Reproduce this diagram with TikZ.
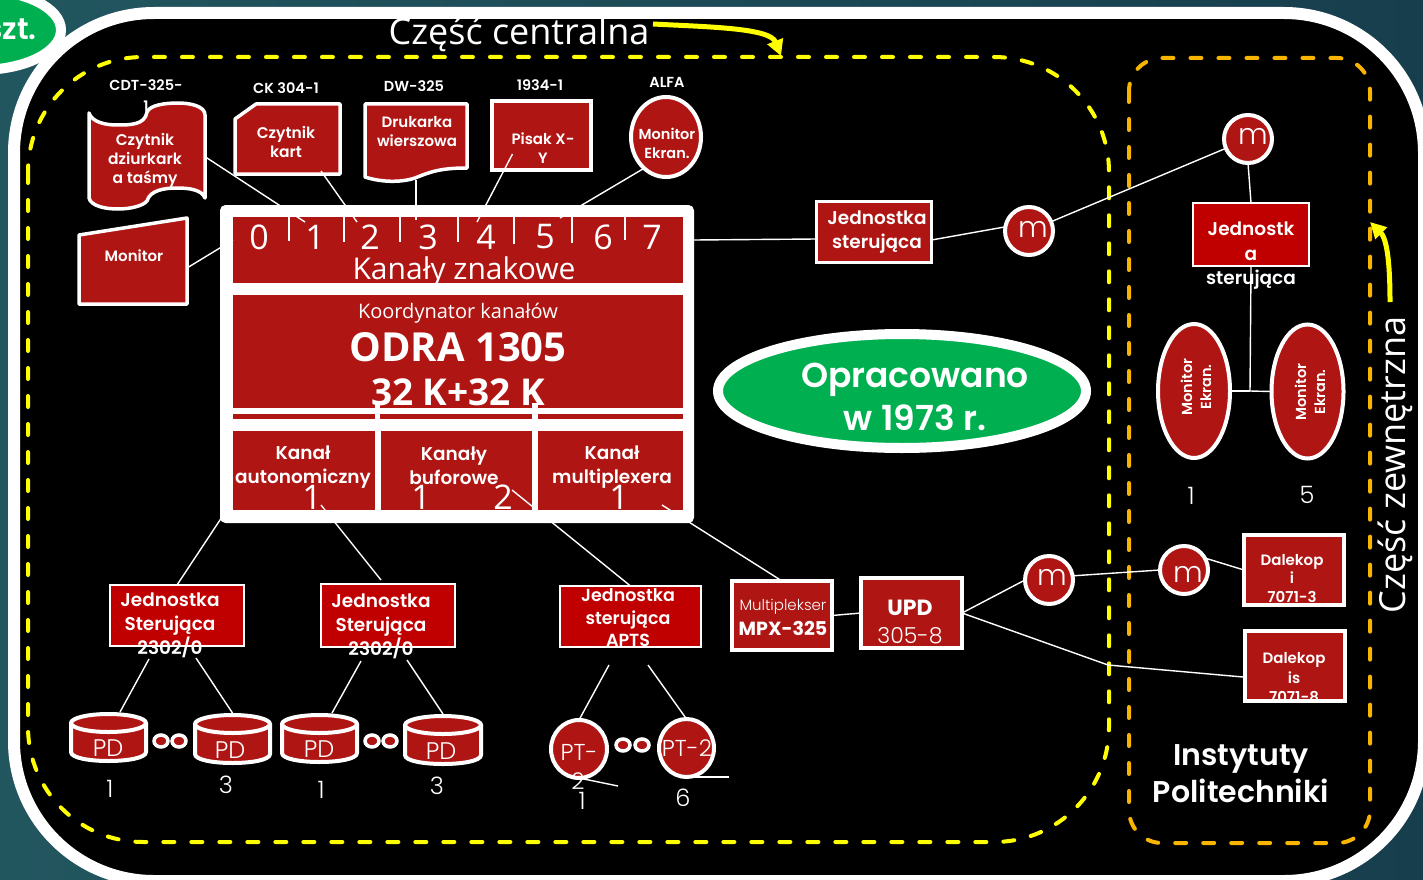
\documentclass[tikz,border=0pt]{standalone}
\usepackage{fontspec}
\setmainfont{Poppins}
\newfontfamily\comic{Open Sans}
\newfontfamily\med{Poppins SemiBold}
\newfontfamily\lite{Poppins Light}
\usetikzlibrary{shapes.geometric,arrows.meta}
\definecolor{cred}{HTML}{AE1513}
\definecolor{bred}{HTML}{C00000}
\definecolor{cgreen}{HTML}{00B050}
\definecolor{cyell}{HTML}{FFFF00}
\definecolor{corange}{HTML}{F9B400}
\definecolor{bgl}{HTML}{22565F}
\definecolor{bgm}{HTML}{2F6A6A}
\definecolor{bgr}{HTML}{173E4D}
\newcommand\fs[2]{\fontsize{#1}{#2}\selectfont}
\tikzset{
 tx/.style={text=white,inner sep=0pt,align=center},
 hv/.style={tx,font=\med\fs{#1}{#1}},
 rg/.style={tx,font=\lite\fs{#1}{#1}},
 cm/.style={tx,font=\comic\fs{#1}{#1}},
 rbox/.style={rectangle,inner sep=0pt,outer sep=0pt,draw=white,fill=cred,line width=4pt},
 jbox/.style={rectangle,inner sep=0pt,outer sep=0pt,draw=white,fill=bred,line width=2pt},
 round/.style={ellipse,inner sep=0pt,outer sep=0pt,draw=white,fill=cred,line width=4pt},
 region/.style={fill=cred},
 shapeln/.style={draw=white,fill=cred,line width=3.5pt,line join=round},
 conn/.style={draw=white,line width=1.4pt},
 tick/.style={draw=white,line width=1.3pt},
 dyel/.style={draw=cyell,line width=4pt,line cap=round,dash pattern=on 11pt off 17pt},
 dora/.style={draw=corange,line width=4pt,line cap=round,dash pattern=on 11pt off 17pt},
 yarrow/.style={draw=cyell,line width=5pt,-{Triangle[length=16pt,width=16pt]}},
 dotnode/.style={ellipse,inner sep=0pt,draw=white,fill=cred,line width=3.5pt,minimum width=14pt,minimum height=12pt},
}
\newcommand\PDcyl[5]{% name x1 x2 y1 y2
 \path[draw=white,fill=cred,line width=4pt]
  (#2,#4+9) -- (#2,#5-9) .. controls (#2,#5+3) and (#3,#5+3) .. (#3,#5-9) -- (#3,#4+9);
 \path[draw=white,fill=cred,line width=4pt] ({(#2+#3)/2},#4+9) ellipse ({(#3-#2)/2} and 9);
 \node[inner sep=0pt,outer sep=0pt,minimum width={(#3-#2+4)*1pt},minimum height={(#5-#4+4)*1pt}] (#1) at ({(#2+#3)/2},{(#4+#5)/2}) {};
}
\begin{document}
\begin{tikzpicture}[x=1pt,y=-1pt]
\useasboundingbox (0,0) rectangle (1423,880);
\clip (0,0) rectangle (1423,880);
\shade[left color=bgl,middle color=bgm,right color=bgr] (0,0) rectangle (1423,880);
% panel
\path[draw=white,fill=black,line width=12pt,rounded corners=140pt] (14,13) rectangle (1424,881);
% szt badge
\node[ellipse,draw=white,fill=cgreen,line width=10pt,minimum width=162pt,minimum height=80pt,inner sep=0pt] (badge) at (-20,30) {};
\node[tx,font=\med\fs{30}{30},anchor=east] (bdgt) at (37,29) {szt.};
% dashed frames
\path[dyel,rounded corners=115pt] (28,57) rectangle (1109,842);
\path[dora,rounded corners=33pt] (1129,58) rectangle (1370,843);
\node[cm=36] (cc) at (519,34) {Część centralna};
\node[cm=36,rotate=90] (cz) at (1395,465) {Część zewnętrzna};
\coordinate (ya1) at (653,24); \coordinate (ya2) at (781,56);
\coordinate (yb1) at (1390,302); \coordinate (yb2) at (1370,222);
\draw[yarrow] (ya1) .. controls (710,27) and (770,28) .. (ya2);
\draw[yarrow] (yb1) .. controls (1390,270) and (1388,240) .. (yb2);
% peripherals
\node[hv=14.5] (lcdt) at (146,85) {CDT-325-};
\node[hv=14.5] (lcdt2) at (146,106) {1};
\path[shapeln] (89,113) .. controls (92,122) and (105,125) .. (117,125) .. controls (130,125) and (145,125) .. (147,112) .. controls (150,105) and (165,103) .. (178,103) .. controls (190,103) and (205,106) .. (205,115) -- (205,198) .. controls (202,190) and (190,188) .. (177,188) .. controls (165,188) and (150,190) .. (147,201) .. controls (143,206) and (130,209) .. (118,209) .. controls (105,209) and (91,206) .. (89,198) -- cycle;
\node[inner sep=0pt,outer sep=0pt,minimum width=117pt,minimum height=100pt] (cdt) at (147,157) {};
\node[tx,font=\med\fs{15.5}{19}] (tcdt) at (145,160) {Czytnik\\dziurkark\\a taśmy};
\node[hv=14.5] (lck) at (286,88) {CK 304-1};
\path[shapeln] (235,119) -- (256,104) -- (340,104) -- (340,174) -- (235,174) -- cycle;
\node[inner sep=0pt,outer sep=0pt,minimum width=105pt,minimum height=70pt] (ck) at (287,139) {};
\node[tx,font=\med\fs{15.5}{19}] (tck) at (286,142) {Czytnik\\kart};
\node[hv=14.5] (ldw) at (414,86) {DW-325};
\path[shapeln] (365,104) -- (467,104) -- (467,168) .. controls (440,168) and (430,172) .. (415,178) .. controls (400,183) and (380,182) .. (365,177) -- cycle;
\node[inner sep=0pt,outer sep=0pt,minimum width=102pt,minimum height=78pt] (dw) at (416,143) {};
\node[tx,font=\med\fs{15}{19}] (tdw) at (417,132) {Drukarka\\wierszowa};
\node[hv=14.5] (lpis) at (540,85) {1934-1};
\node[rbox,minimum width=99pt,minimum height=69pt] (pis) at (541.5,135.5) {};
\node[tx,font=\med\fs{15}{19}] (tpis) at (543,148) {Pisak X-\\Y};
\node[hv=14.5] (lalfa) at (667,82) {ALFA};
\node[round,minimum width=70pt,minimum height=80pt] (alfa) at (666,137) {};
\node[tx,font=\med\fs{14.5}{19}] (talfa) at (667,143) {Monitor\\Ekran.};
\path[shapeln] (79,235) -- (187,218) -- (187,304) -- (79,304) -- cycle;
\node[inner sep=0pt,outer sep=0pt,minimum width=108pt,minimum height=80pt] (mon) at (133,262) {};
\node[hv=15] (tmon) at (134,256) {Monitor};
% central unit
\node[rectangle,draw=white,fill=white,rounded corners=5pt,line width=1pt,inner sep=0pt,outer sep=0pt,minimum width=473pt,minimum height=317pt] (cpu) at (457,364) {};
\path[region] (233,217) rectangle (683,283);
\path[region] (233,295) rectangle (683,408);
\path[region] (233,414) rectangle (375,419);
\path[region] (380,414) rectangle (532,419);
\path[region] (538,414) rectangle (683,419);
\path[region] (233,431) rectangle (375,510);
\path[region] (381,431) rectangle (532,510);
\path[region] (538,431) rectangle (683,510);
\fill[white] (375,403) rectangle (380,414);
\fill[white] (532,403) rectangle (538,414);
\node[cm=34] (d0) at (259,237) {0};
\node[cm=34] (d1) at (315,237) {1};
\node[cm=34] (d2) at (370,237) {2};
\node[cm=34] (d3) at (428,237) {3};
\node[cm=34] (d4) at (486,237) {4};
\node[cm=34] (d5) at (545,237) {5};
\node[cm=34] (d6) at (603,237) {6};
\node[cm=34] (d7) at (652,237) {7};
\coordinate (k1a) at (289,217); \coordinate (k1b) at (289,241);
\coordinate (k2a) at (344,217); \coordinate (k2b) at (344,242);
\coordinate (k3a) at (400,217); \coordinate (k3b) at (400,242);
\coordinate (k4a) at (458,217); \coordinate (k4b) at (458,242);
\coordinate (k5a) at (514,217); \coordinate (k5b) at (514,244);
\coordinate (k6a) at (572,217); \coordinate (k6b) at (572,243);
\coordinate (k7a) at (625,217); \coordinate (k7b) at (625,240);
\foreach \k in {1,...,7} {\draw[tick] (k\k a) -- (k\k b);}
\node[cm=30] (tkz) at (464,272) {Kanały znakowe};
\node[cm=20] (tko) at (458,313) {Koordynator kanałów};
\node[tx,font=\comic\fs{40}{40}\bfseries] (todra) at (458,347) {ODRA 1305};
\node[tx,font=\comic\fs{37}{37}\bfseries] (t32) at (458,392) {32 K+32 K};
\node[tx,font=\med\fs{18.5}{24}] (tka) at (303,467) {Kanał\\autonomiczny};
\node[tx,font=\med\fs{18.5}{24}] (tkb) at (454,466) {Kanały\\buforowe};
\node[tx,font=\med\fs{18.5}{24}] (tkm) at (612,467) {Kanał\\multiplexera};
\node[cm=34] (e1) at (312,497) {1};
\node[cm=34] (e2) at (421,497) {1};
\node[cm=34] (e3) at (503,497) {2};
\node[cm=34] (e4) at (619,497) {1};
% control units
\node[rbox,line width=3pt,minimum width=115pt,minimum height=61pt] (jsc) at (874,232) {};
\node[tx,font=\med\fs{18.5}{24}] (tjsc) at (877,232) {Jednostka\\sterująca};
\node[round,minimum width=48pt,minimum height=48pt] (m1) at (1029,231) {};
\node[rg=29] (tm1) at (1033,229) {m};
\node[round,minimum width=48pt,minimum height=48pt] (m2) at (1248,139) {};
\node[rg=29] (tm2) at (1253,136) {m};
\node[jbox,minimum width=116pt,minimum height=63pt] (jsr) at (1251,234.5) {};
\node[tx,font=\med\fs{18.5}{24.5}] (tjsr) at (1251,256) {Jednostk\\a\\sterująca};
\node[round,minimum width=72pt,minimum height=134pt] (mon1) at (1194,391) {};
\node[round,minimum width=72pt,minimum height=134pt] (mon2) at (1307.5,391.5) {};
\node[tx,font=\med\fs{14.5}{19},rotate=90] (tm1x) at (1196,387) {Monitor\\Ekran.};
\node[tx,font=\med\fs{14.5}{19},rotate=90] (tm2x) at (1310,392) {Monitor\\Ekran.};
\node[rg=24] (n15a) at (1191,496) {1};
\node[rg=24] (n15b) at (1307,495) {5};
\node[ellipse,draw=white,fill=cgreen,line width=10pt,inner sep=0pt,minimum width=368pt,minimum height=114pt] (ell) at (902,391) {};
\node[tx,font=\med\fs{34.5}{43}] (tell) at (915,397) {Opracowano\\w 1973 r.};
% disk controllers
\node[jbox,minimum width=134pt,minimum height=61pt] (js1) at (177,615.5) {};
\node[tx,font=\med\fs{18.5}{24}] (tjs1) at (170,625) {Jednostka\\Sterująca\\2302/0};
\node[jbox,minimum width=134pt,minimum height=63pt] (js2) at (388,615.5) {};
\node[tx,font=\med\fs{18.5}{24}] (tjs2) at (381,626) {Jednostka\\Sterująca\\2302/0};
\node[jbox,minimum width=141pt,minimum height=61pt] (aps) at (630.5,616.5) {};
\node[tx,font=\med\fs{17.5}{22.5}] (taps) at (628,618) {Jednostka\\sterująca\\APTS};
\node[rbox,minimum width=100pt,minimum height=69pt] (mpx) at (782,615.5) {};
\node[rg=15] (tmpx) at (783,607) {Multiplekser};
\node[tx,font=\fs{19}{19}\bfseries] (tmpx2) at (783,628) {MPX-325};
\node[rbox,minimum width=101pt,minimum height=70pt] (upd) at (911.5,613) {};
\node[tx,font=\fs{22}{22}\bfseries] (tupd) at (910,608) {UPD};
\node[rg=22] (tupd2) at (910,636) {305-8};
\node[round,minimum width=48pt,minimum height=48pt] (m3) at (1049,580) {};
\node[rg=29] (tm3) at (1052,577) {m};
\node[round,minimum width=48pt,minimum height=48pt] (m4) at (1184,570) {};
\node[rg=29] (tm4) at (1188,574) {m};
\node[rectangle,inner sep=0pt,outer sep=0pt,fill=cred,minimum width=100pt,minimum height=70pt] (dal1) at (1294,570) {};
\node[tx,font=\med\fs{15}{18.5}] (tdal1) at (1292,578) {Dalekop\\i\\7071-3};
\node[rectangle,inner sep=0pt,outer sep=0pt,draw=white,line width=4pt,minimum width=100pt,minimum height=70pt] (dal1b) at (1294,570) {};
\node[rectangle,inner sep=0pt,outer sep=0pt,fill=cred,minimum width=100pt,minimum height=70pt] (dal2) at (1295,666) {};
\begin{scope}
\clip (1243,629) rectangle (1347,701);
\node[tx,font=\med\fs{15}{19.5}] (tdal2) at (1294,678) {Dalekop\\is\\7071-8};
\end{scope}
\node[rectangle,inner sep=0pt,outer sep=0pt,draw=white,line width=4pt,minimum width=100pt,minimum height=70pt] (dal2b) at (1295,666) {};
\node[tx,font=\med\fs{30}{37}] (tinst) at (1241,774) {Instytuty\\Politechniki};
% disks
\PDcyl{pd1}{71}{146}{714}{761}
\PDcyl{pd2}{195}{270}{715}{763}
\PDcyl{pd3}{282}{357}{715}{762}
\PDcyl{pd4}{405}{481}{716}{764}
\node[rg=24] (tp1) at (108,748) {PD};
\node[rg=24] (tp2) at (230,750) {PD};
\node[rg=24] (tp3) at (319,749) {PD};
\node[rg=24] (tp4) at (441,751) {PD};
\node[rg=24] (np1) at (110,789) {1};
\node[rg=24] (np2) at (226,785) {3};
\node[rg=24] (np3) at (321,790) {1};
\node[rg=24] (np4) at (437,786) {3};
\node[dotnode] (o1) at (161,741) {};
\node[dotnode] (o2) at (179,741) {};
\node[dotnode] (o3) at (372,741) {};
\node[dotnode] (o4) at (390,741) {};
\node[dotnode] (o5) at (623,745) {};
\node[dotnode] (o6) at (642,745) {};
\node[round,minimum width=56pt,minimum height=58pt] (pt1) at (579,749) {};
\node[round,minimum width=55pt,minimum height=58pt] (pt2) at (686.5,748) {};
\node[rg=23] (tpt1) at (579,752) {PT-};
\node[rg=23] (tpt1b) at (578,781) {2};
\node[rg=23] (tpt2) at (687,748) {PT-2};
\node[rg=24] (npt1) at (582,801) {1};
\node[rg=24] (npt2) at (683,798) {6};
% connector ends
\coordinate (c1) at (305,222);
\coordinate (c2) at (357,222);
\coordinate (c3) at (416,220);
\coordinate (c4) at (477,222);
\coordinate (c5) at (560,218);
\coordinate (c0) at (233,240);
\coordinate (out) at (694,240);
\coordinate (b0) at (222,517);
\coordinate (b1) at (321,505);
\coordinate (b2) at (512,490);
\coordinate (b3) at (662,505);
\coordinate (ja) at (1250,391);
\coordinate (kink) at (1108,665);
\coordinate (s1) at (618,786);
\coordinate (s2) at (729,777);
\draw[conn] (cdt.east) -- (c1);
\draw[conn] ([shift={(34,-3)}]ck.south) -- (c2);
\draw[conn] ([shift={(0,-2)}]dw.south) -- (c3);
\draw[conn] ([shift={(-29,-16)}]pis.south) -- (c4);
\draw[conn] (alfa.-125) -- (c5);
\draw[conn] ([shift={(0,6)}]mon.east) -- (c0);
\draw[conn] (out) -- ([shift={(0,7)}]jsc.west);
\draw[conn] ([shift={(0,8)}]jsc.east) -- (m1.170);
\draw[conn] (m1) -- (m2);
\draw[conn] (m2.south) -- (jsr.north);
\draw[conn] (jsr.south) -- (ja);
\draw[conn] (mon1.east) -- (ja);
\draw[conn] (mon2.west) -- (ja);
\draw[conn] (b0) -- (js1.north);
\draw[conn] (b1) -- ([shift={(-7,-4)}]js2.north);
\draw[conn] (b2) -- (aps.north);
\draw[conn] (b3) -- (mpx.north);
\draw[conn] ([shift={(-28,13)}]js1.south) -- ([shift={(11.5,0)}]pd1.north);
\draw[conn] ([shift={(19,12)}]js1.south) -- (pd2.north);
\draw[conn] ([shift={(-27,14)}]js2.south) -- ([shift={(12.5,0)}]pd3.north);
\draw[conn] ([shift={(19,13)}]js2.south) -- (pd4.north);
\draw[conn] ([shift={(-21.5,18)}]aps.south) -- (pt1.north);
\draw[conn] ([shift={(17.5,18)}]aps.south) -- (pt2.north);
\draw[conn] (pt1.south) -- (s1);
\draw[conn] (pt2.south) -- (s2);
\draw[conn] (mpx.east) -- (upd.west);
\draw[conn] (upd.east) -- (m3.west);
\draw[conn] (m3.10) -- (m4.west);
\draw[conn] (m4.30) -- (dal1.west);
\draw[conn] (upd.east) -- (kink) -- ([shift={(-2,11)}]dal2.west);
\end{tikzpicture}
\end{document}
